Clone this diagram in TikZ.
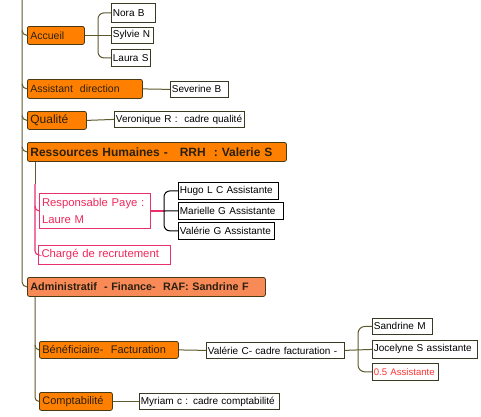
\documentclass[tikz,border=0pt]{standalone}
\usepackage{fontspec}
\setmainfont{Liberation Sans}
\definecolor{orangefill}{HTML}{FF8000}
\definecolor{salmonfill}{HTML}{F88A58}
\definecolor{boxedge}{HTML}{4A3A14}
\definecolor{connc}{HTML}{5E5A2E}
\definecolor{smalledge}{HTML}{3A3A22}
\definecolor{pinkc}{HTML}{E8306A}
\definecolor{pinktext}{HTML}{F0285A}
\definecolor{redtext}{HTML}{FF3333}
\definecolor{darktext}{HTML}{2B2010}
\begin{document}
\begin{tikzpicture}[x=1pt,y=-1pt,
  sz/.style n args={2}{minimum height=#2, text width=#1-6pt},
  basebox/.style={anchor=north west, inner xsep=3pt, inner ysep=0pt, align=left, line width=0.8pt,
    execute at begin node={\hyphenpenalty=10000\exhyphenpenalty=10000}},
  orangebox/.style={basebox, draw=boxedge, fill=orangefill, rounded corners=2pt, text=darktext},
  salmonbox/.style={basebox, draw=boxedge, fill=salmonfill, rounded corners=2pt, text=darktext},
  whitebox/.style={basebox, inner xsep=1.5pt, text width=#1-3pt, draw=smalledge, fill=white, text=black, font=\fontsize{10}{12}\selectfont},
  pinkbox/.style={basebox, draw=pinkc, fill=white, text=pinktext, line width=1pt},
  pinkframe/.style={draw=pinkc, line width=1pt},
  conn/.style={draw=connc, line width=1pt},
  pinkconn/.style={draw=pinkc, line width=1.1pt},
  blackconn/.style={draw=black, line width=1pt}
]
\useasboundingbox (0,0) rectangle (481,416);

% level 1 boxes
\node[orangebox, sz={57pt}{18pt}, font=\fontsize{10.5}{12}\selectfont] (accueil) at (27,26) {Accueil};
\node[orangebox, sz={115pt}{19pt}, font=\fontsize{10.5}{12}\selectfont] (assist) at (27,79) {Assistant\ \ direction};
\node[orangebox, sz={59pt}{18pt}, font=\fontsize{12}{14}\selectfont] (qualite) at (27,111) {Qualité};
\node[orangebox, sz={259pt}{19pt}, font=\bfseries\fontsize{12}{14}\selectfont] (rh) at (27,142) {Ressources Humaines -\ \ \ RRH\ \ : Valerie S};
\node[salmonbox, sz={238pt}{19pt}, font=\bfseries\fontsize{10.8}{12}\selectfont] (admin) at (27,277) {Administratif\ \ - Finance-\ \ RAF: Sandrine F};

% accueil children
\node[whitebox=44pt, minimum height=19pt] (nora) at (111,3) {Nora B};
\node[whitebox=42pt, minimum height=16pt] (sylvie) at (111,27) {Sylvie N};
\node[whitebox=39pt, minimum height=17pt] (laura) at (111,49) {Laura S};
\node[whitebox=58pt, minimum height=16pt] (severine) at (170,81) {Severine B};
\node[whitebox=130pt, minimum height=16pt] (veronique) at (114,111) {Veronique R :\ \ cadre qualité};

% RH
\node[pinkbox, draw=none, outer sep=0pt, minimum height=36pt, minimum width=112pt, text width=106pt, font=\fontsize{11.3}{17}\selectfont] (paye) at (39,193) {Responsable Paye : Laure M};
\node[pinkbox, sz={132pt}{19pt}, font=\fontsize{11.3}{13}\selectfont] (charge) at (38,245) {Chargé de recrutement};
\node[whitebox=100pt, minimum height=17pt, draw=black] (hugo) at (178,182) {Hugo L C Assistante};
\node[whitebox=105pt, minimum height=17pt, draw=black] (marielle) at (178,202) {Marielle G Assistante};
\node[whitebox=96pt, minimum height=17pt, draw=black] (valerieg) at (178,222) {Valérie G Assistante};

% Admin
\node[orangebox, sz={139pt}{17pt}, font=\fontsize{11}{13}\selectfont] (benef) at (39,341) {Bénéficiaire-\ \ Facturation};
\node[orangebox, sz={73pt}{18pt}, font=\fontsize{11}{13}\selectfont] (compta) at (39,392) {Comptabilité};
\node[whitebox=138pt, minimum height=16pt] (valeriec) at (206,342) {Valérie C- cadre facturation -};
\node[whitebox=60pt, minimum height=16pt] (sandrine) at (372,318) {Sandrine M};
\node[whitebox=105pt, minimum height=18pt] (jocelyne) at (372,340) {Jocelyne S assistante};
\node[whitebox=66pt, minimum height=17pt, text=redtext, font=\fontsize{9.6}{11}\selectfont] (demi) at (372,363) {0.5 Assistante};
\node[whitebox=140pt, minimum height=16pt] (myriam) at (139,393) {Myriam c : cadre comptabilité};

% trunk
\coordinate (trunktop) at (22,0);
\draw[conn, rounded corners=5pt] (trunktop) |- (admin.west);
\foreach \n in {accueil,assist,qualite,rh}{
  \draw[conn] ([yshift=5pt]\n.west -| trunktop) to[out=-90,in=180] (\n.west);
}

% accueil brace
\coordinate (acbr) at ([xshift=-13pt]sylvie.west);
\draw[conn] (accueil.east) -- (sylvie.west);
\draw[conn, rounded corners=6pt] (nora.west) -| (acbr) |- (laura.west);
\draw[conn] (assist.east) -- (severine.west);
\draw[conn] (qualite.east) -- (veronique.west);

% RH subtree
\coordinate (rhfoot) at ([xshift=8pt]rh.south west);
\coordinate (rhmid) at ([yshift=-22pt]rhfoot);
\draw[conn] (rhfoot) -- (rhmid);
\draw[pinkconn, rounded corners=4pt] (rhmid) |- (charge.west);
\draw[pinkconn] ([yshift=5pt]paye.west -| rhfoot) to[out=-90,in=180] (paye.west);
\coordinate (rhbr) at ([xshift=-14pt]marielle.west);
\draw[pinkconn] (paye.east) -- (paye.east -| rhbr);
\draw[blackconn] (paye.east -| rhbr) -- (marielle.west);
\draw[blackconn, rounded corners=6pt] (hugo.west) -| (rhbr) |- (valerieg.west);

% Admin subtree
\coordinate (adfoot) at ([xshift=8pt]admin.south west);
\draw[conn, rounded corners=4pt] (adfoot) |- (compta.west);
\draw[conn] ([yshift=5pt]benef.west -| adfoot) to[out=-90,in=180] (benef.west);
\draw[conn] (benef.east) -- (valeriec.west);
\draw[conn] (compta.east) -- (myriam.west);
\coordinate (adbr) at ([xshift=-14pt]jocelyne.west);
\draw[conn] (valeriec.east) -- (jocelyne.west);
\draw[conn, rounded corners=7pt] (sandrine.west) -| (adbr) |- (demi.west);

\draw[pinkframe] ([shift={(0.5pt,-0.5pt)}]paye.north west) rectangle ([shift={(-0.5pt,0.5pt)}]paye.south east);
\end{tikzpicture}
\end{document}
